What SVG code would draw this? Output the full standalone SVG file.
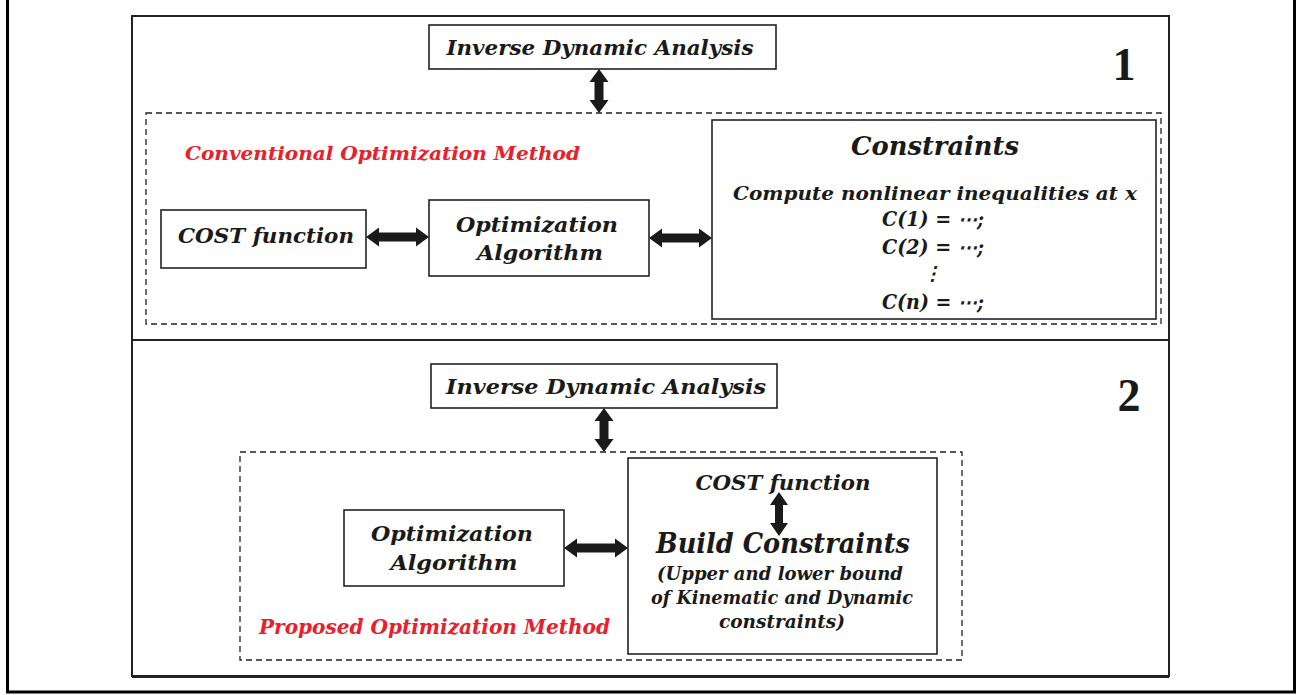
<svg xmlns="http://www.w3.org/2000/svg" width="1306" height="695" viewBox="0 0 1306 695">
<style>
.box{fill:#fff;stroke:#222;stroke-width:1.6}
.dash{fill:none;stroke:#222;stroke-width:1.3;stroke-dasharray:6,4}
.t{font-family:"DejaVu Serif","Liberation Serif",serif;font-style:italic;font-weight:bold;fill:#1a1a1a;text-anchor:middle}
.red{font-family:"DejaVu Serif","Liberation Serif",serif;font-style:italic;font-weight:bold;fill:#e8202a}
.num{font-family:"Liberation Serif","DejaVu Serif",serif;font-weight:bold;fill:#1a1a1a;font-size:46px;text-anchor:middle}
.arr{fill:#1a1a1a}
</style>
<rect width="1306" height="695" fill="#fff"/>
<rect x="7.5" y="-5" width="1287" height="697" fill="none" stroke="#000" stroke-width="3"/>
<rect x="132" y="16" width="1037" height="660" fill="none" stroke="#222" stroke-width="2"/>
<line x1="132" y1="676.5" x2="1169" y2="676.5" stroke="#222" stroke-width="3"/>
<line x1="132" y1="340" x2="1169" y2="340" stroke="#222" stroke-width="2"/>

<g id="panel1">
<text class="num" x="1124" y="80">1</text>
<rect class="dash" x="146" y="113" width="1015" height="211"/>
<text class="red" x="185" y="160" font-size="19" textLength="395" lengthAdjust="spacingAndGlyphs">Conventional Optimization Method</text>
</g>
<g id="ida1">
<rect class="box" x="429" y="25" width="347" height="44"/>
<text class="t" x="600" y="55" font-size="21" textLength="307" lengthAdjust="spacingAndGlyphs">Inverse Dynamic Analysis</text>
</g>
<g id="cost1">
<rect class="box" x="161" y="210" width="205" height="58"/>
<text class="t" x="266" y="243" font-size="21" textLength="176" lengthAdjust="spacingAndGlyphs">COST function</text>
</g>
<g id="opt1">
<rect class="box" x="429" y="200" width="220" height="76"/>
<text class="t" x="537" y="232" font-size="21" textLength="162" lengthAdjust="spacingAndGlyphs">Optimization</text>
<text class="t" x="540" y="260" font-size="21" textLength="126" lengthAdjust="spacingAndGlyphs">Algorithm</text>
</g>
<g id="constraints1">
<rect class="box" x="712" y="120" width="444" height="199"/>
<text class="t" x="935" y="155" font-size="26" textLength="168" lengthAdjust="spacingAndGlyphs">Constraints</text>
<text class="t" x="935" y="200" font-size="19" textLength="404" lengthAdjust="spacingAndGlyphs">Compute nonlinear inequalities at x</text>
<text class="t" x="933" y="226" font-size="20" textLength="102" lengthAdjust="spacingAndGlyphs">C(1) = ⋯;</text>
<text class="t" x="933" y="254" font-size="20" textLength="102" lengthAdjust="spacingAndGlyphs">C(2) = ⋯;</text>
<text class="t" x="932" y="280" font-size="19" font-style="normal">⋮</text>
<text class="t" x="933" y="309" font-size="20" textLength="102" lengthAdjust="spacingAndGlyphs">C(n) = ⋯;</text>
</g>

<g id="panel2">
<text class="num" x="1129" y="411">2</text>
<rect class="dash" x="240" y="452" width="722" height="208"/>
<text class="red" x="259" y="634" font-size="20" textLength="351" lengthAdjust="spacingAndGlyphs">Proposed Optimization Method</text>
</g>
<g id="ida2">
<rect class="box" x="431" y="364" width="346" height="44"/>
<text class="t" x="606" y="394" font-size="21" textLength="320" lengthAdjust="spacingAndGlyphs">Inverse Dynamic Analysis</text>
</g>
<g id="opt2">
<rect class="box" x="344" y="510" width="220" height="76"/>
<text class="t" x="452" y="541" font-size="21" textLength="162" lengthAdjust="spacingAndGlyphs">Optimization</text>
<text class="t" x="454" y="570" font-size="21" textLength="127" lengthAdjust="spacingAndGlyphs">Algorithm</text>
</g>
<g id="build2">
<rect class="box" x="628" y="458" width="309" height="196"/>
<text class="t" x="783" y="490" font-size="21" textLength="175" lengthAdjust="spacingAndGlyphs">COST function</text>
<text class="t" x="783" y="553" font-size="27" textLength="254" lengthAdjust="spacingAndGlyphs">Build Constraints</text>
<text class="t" x="780" y="580" font-size="18" textLength="246" lengthAdjust="spacingAndGlyphs">(Upper and lower bound</text>
<text class="t" x="782" y="604" font-size="18" textLength="262" lengthAdjust="spacingAndGlyphs">of Kinematic and Dynamic</text>
<text class="t" x="782" y="628" font-size="18" textLength="126" lengthAdjust="spacingAndGlyphs">constraints)</text>
</g>

<g id="connectors" class="arr">
<polygon points="599,69 608.5,82 603.5,82 603.5,100 608.5,100 599,113 589.5,100 594.5,100 594.5,82 589.5,82"/>
<polygon points="366,237 379,227.5 379,232.5 416,232.5 416,227.5 429,237 416,246.5 416,241.5 379,241.5 379,246.5"/>
<polygon points="649,238 662,228.5 662,233.5 699,233.5 699,228.5 712,238 699,247.5 699,242.5 662,242.5 662,247.5"/>
<polygon points="604,408 613.5,421 608.5,421 608.5,439 613.5,439 604,452 594.5,439 599.5,439 599.5,421 594.5,421"/>
<polygon points="564,548 577,538.5 577,543.5 615,543.5 615,538.5 628,548 615,557.5 615,552.5 577,552.5 577,557.5"/>
<polygon points="779,492 788,505 783,505 783,523 788,523 779,536 770,523 775,523 775,505 770,505"/>
</g>
</svg>
